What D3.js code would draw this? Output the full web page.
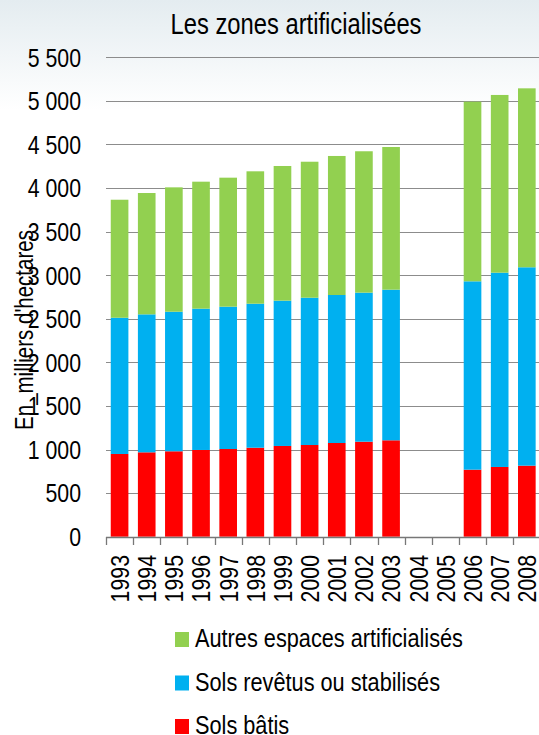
<!DOCTYPE html>
<html lang="fr">
<head>
<meta charset="utf-8">
<title>Les zones artificialisées</title>
<script src="https://d3js.org/d3.v7.min.js"></script>
<style>
  body { margin: 0; background: #fff; }
  svg text { font-family: "Liberation Sans", Arial, sans-serif; fill: #000; }
</style>
</head>
<body>
<div id="graphique"></div>
<script>
// données (milliers d'hectares)
const annees = ["1993", "1994", "1995", "1996", "1997", "1998", "1999", "2000",
                "2001", "2002", "2003", "2004", "2005", "2006", "2007", "2008"];
const solsBatis     = [949, 968, 980, 995, 1006, 1021, 1041, 1052, 1075, 1090, 1106, 0, 0, 769, 800, 815];
const solsRevetus   = [1563, 1583, 1601, 1621, 1633, 1652, 1667, 1690, 1698, 1710, 1728, 0, 0, 2161, 2229, 2276];
const autresEspaces = [1354, 1392, 1427, 1457, 1480, 1519, 1545, 1560, 1595, 1622, 1637, 0, 0, 2061, 2039, 2053];
const nomsSeries = ["Sols bâtis", "Sols revêtus ou stabilisés", "Autres espaces artificialisés"];
const couleurs = ["#ff0000", "#00b0f0", "#92d050"];
const ticksY = [0, 500, 1000, 1500, 2000, 2500, 3000, 3500, 4000, 4500, 5000, 5500];

const largeur = 539, hauteur = 735;
const gauche = 106, droite = 540.4, haut = 57.3, bas = 536.7;
const etroit = 0.82; // police "narrow" : on comprime le texte dans son sens

const svg = d3.select("#graphique").append("svg")
    .attr("width", largeur)
    .attr("height", hauteur);

// fond légèrement teinté en haut
const defs = svg.append("defs");
const grad = defs.append("linearGradient").attr("id", "fond").attr("x1", 0).attr("y1", 0).attr("x2", 0).attr("y2", 1);
grad.append("stop").attr("offset", "0%").attr("stop-color", "#e4ecf0");
grad.append("stop").attr("offset", "100%").attr("stop-color", "#ffffff");
svg.append("rect").attr("width", largeur).attr("height", 110).attr("fill", "url(#fond)");

const lignes = annees.map((a, i) => ({
    annee: a,
    bat: solsBatis[i],
    rev: solsRevetus[i],
    aut: autresEspaces[i]
}));
const pile = d3.stack().keys(["bat", "rev", "aut"])(lignes);

const x = d3.scaleBand()
    .domain(annees)
    .range([gauche, droite])
    .paddingInner(0.35)
    .paddingOuter(0.175);
const y = d3.scaleLinear()
    .domain([0, 5500])
    .range([bas, haut]);

const fr = d3.formatLocale({decimal: ",", thousands: " ", grouping: [3], currency: ["", " €"]});
const formatY = fr.format(",d");

// quadrillage
svg.append("g")
    .selectAll("line")
    .data(ticksY.filter(d => d > 0))
    .join("line")
    .attr("x1", gauche)
    .attr("x2", largeur)
    .attr("y1", d => Math.round(y(d)) + 0.5)
    .attr("y2", d => Math.round(y(d)) + 0.5)
    .attr("stroke", "#8c8c8c")
    .attr("stroke-width", 1.2);

// étiquettes axe Y
svg.append("g")
    .attr("text-anchor", "end")
    .attr("font-size", 26)
    .selectAll("text")
    .data(ticksY)
    .join("text")
    .attr("transform", d => `translate(81,${y(d)}) scale(${etroit},1)`)
    .attr("dy", "0.36em")
    .text(d => formatY(d));

// barres empilées
svg.append("g")
    .selectAll("g")
    .data(pile)
    .join("g")
    .attr("fill", (d, i) => couleurs[i])
    .selectAll("rect")
    .data(d => d.filter(s => s[1] > s[0]))
    .join("rect")
    .attr("x", d => x(d.data.annee))
    .attr("width", x.bandwidth())
    .attr("y", d => y(d[1]))
    .attr("height", d => y(d[0]) - y(d[1]));

// axe X
const pas = x.step();
const bords = annees.map(a => x(a) - pas * x.paddingInner() / 2);
bords.push(bords[bords.length - 1] + pas);
const axeX = svg.append("g");
axeX.append("line")
    .attr("x1", gauche).attr("x2", largeur)
    .attr("y1", Math.round(bas) + 0.5).attr("y2", Math.round(bas) + 0.5)
    .attr("stroke", "#777").attr("stroke-width", 1.3);
axeX.selectAll("line.graduation")
    .data(bords)
    .join("line")
    .attr("class", "graduation")
    .attr("x1", d => Math.round(d) + 0.5).attr("x2", d => Math.round(d) + 0.5)
    .attr("y1", Math.round(bas)).attr("y2", Math.round(bas) + 8)
    .attr("stroke", "#777").attr("stroke-width", 1.3);
axeX.selectAll("text")
    .data(annees)
    .join("text")
    .attr("font-size", 26)
    .attr("text-anchor", "end")
    .attr("transform", d => `translate(${x(d) + x.bandwidth() / 2},555) rotate(-90) scale(${etroit},1)`)
    .attr("dy", "0.36em")
    .text(d => d);

// titre
svg.append("text")
    .attr("transform", `translate(296,34) scale(${etroit},1)`)
    .attr("text-anchor", "middle")
    .attr("font-size", 29)
    .text("Les zones artificialisées");

// titre axe Y
svg.append("text")
    .attr("transform", `translate(33,330) rotate(-90) scale(${etroit},1)`)
    .attr("text-anchor", "middle")
    .attr("font-size", 25)
    .text("En_milliers d'hectares");

// légende
const legende = svg.append("g")
    .selectAll("g")
    .data([2, 1, 0])
    .join("g")
    .attr("transform", (d, i) => `translate(175,${632 + i * 43.5})`);
legende.append("rect")
    .attr("width", 14)
    .attr("height", 15)
    .attr("fill", d => couleurs[d]);
legende.append("text")
    .attr("transform", `translate(20,15) scale(${etroit},1)`)
    .attr("font-size", 26.5)
    .text(d => nomsSeries[d]);
</script>
</body>
</html>
